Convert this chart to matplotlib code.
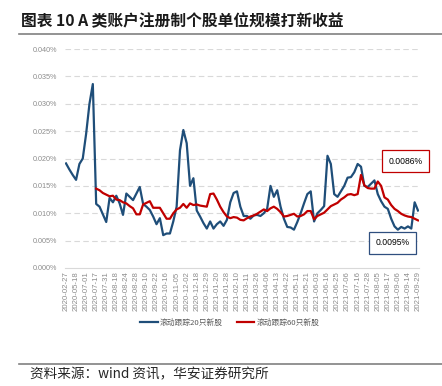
import matplotlib
matplotlib.use("Agg")
import matplotlib.pyplot as plt
import numpy as np
from matplotlib.lines import Line2D

plt.rcParams['font.family'] = ['Noto Sans CJK SC', 'DejaVu Sans']

# ---------------- data ----------------
tick_labels = [
    "2020-02-27", "2020-05-18", "2020-07-01", "2020-07-17", "2020-07-31", "2020-08-18",
    "2020-08-24", "2020-08-28", "2020-09-10", "2020-09-22", "2020-10-16", "2020-11-05",
    "2020-12-02", "2020-12-18", "2020-12-29", "2021-01-20", "2021-01-28", "2021-02-10",
    "2021-03-11", "2021-03-26", "2021-04-06", "2021-04-13", "2021-04-22", "2021-05-11",
    "2021-05-21", "2021-06-03", "2021-06-16", "2021-06-25", "2021-07-06", "2021-07-16",
    "2021-07-28", "2021-08-05", "2021-08-17", "2021-09-06", "2021-09-14", "2021-09-29",
]
points_per_label = 3

# rolling 20 new stocks (values in %)
track20 = [
    0.0191, 0.0180, 0.0170, 0.0161, 0.0190, 0.0200, 0.0245, 0.0300, 0.0336, 0.0117,
    0.0112, 0.0098, 0.0084, 0.0128, 0.0120, 0.0132, 0.0118, 0.0097, 0.0136, 0.0130,
    0.0124, 0.0136, 0.0148, 0.0117, 0.0112, 0.0106, 0.0094, 0.0080, 0.0091, 0.0060,
    0.0063, 0.0063, 0.0085, 0.0112, 0.0215, 0.0252, 0.0228, 0.0150, 0.0164, 0.0105,
    0.0094, 0.0082, 0.0072, 0.0085, 0.0072, 0.0080, 0.0085, 0.0077, 0.0088, 0.0120,
    0.0137, 0.0140, 0.0112, 0.0095, 0.0095, 0.0090, 0.0096, 0.0097, 0.0095, 0.0100,
    0.0108, 0.0150, 0.0130, 0.0142, 0.0112, 0.0090, 0.0075, 0.0074, 0.0070, 0.0084,
    0.0100, 0.0118, 0.0135, 0.0140, 0.0085, 0.0100, 0.0106, 0.0113, 0.0205, 0.0190,
    0.0135, 0.0130, 0.0140, 0.0150, 0.0165, 0.0166, 0.0175, 0.0190, 0.0185, 0.0150,
    0.0148, 0.0154, 0.0160, 0.0135, 0.0122, 0.0112, 0.0108, 0.0090, 0.0076, 0.0070,
    0.0075, 0.0072, 0.0076, 0.0072, 0.0120, 0.0105,
]

# rolling 60 new stocks (values in %), starts later
track60 = [np.nan] * 9 + [
    0.0145, 0.0142, 0.0137, 0.0134, 0.0131, 0.0132, 0.0125, 0.0124, 0.0120, 0.0118,
    0.0113, 0.0109, 0.0098, 0.0098, 0.0116, 0.0119, 0.0122, 0.0110, 0.0110, 0.0110,
    0.0100, 0.0090, 0.0090, 0.0100, 0.0107, 0.0110, 0.0117, 0.0110, 0.0118, 0.0115,
    0.0116, 0.0114, 0.0113, 0.0112, 0.0135, 0.0136, 0.0125, 0.0112, 0.0102, 0.0094,
    0.0091, 0.0093, 0.0092, 0.0088, 0.0087, 0.0091, 0.0094, 0.0096, 0.0099, 0.0103,
    0.0107, 0.0104, 0.0109, 0.0112, 0.0108, 0.0102, 0.0094, 0.0095, 0.0097, 0.0099,
    0.0094, 0.0095, 0.0098, 0.0104, 0.0104, 0.0089, 0.0095, 0.0098, 0.0101, 0.0107,
    0.0113, 0.0116, 0.0119, 0.0125, 0.0129, 0.0134, 0.0135, 0.0133, 0.0135, 0.0170,
    0.0151, 0.0146, 0.0145, 0.0145, 0.0158, 0.0150, 0.0129, 0.0125, 0.0115, 0.0108,
    0.0104, 0.0099, 0.0096, 0.0094, 0.0093, 0.0090, 0.0087,
]

series_names = ["滚动跟踪20只新股", "滚动跟踪60只新股"]
series_colors = ["#1f4e79", "#c00000"]
y_ticks = [0.000, 0.005, 0.010, 0.015, 0.020, 0.025, 0.030, 0.035, 0.040]
annot_red = "0.0086%"
annot_blue = "0.0095%"

# ---------------- figure ----------------
W, H = 442, 386
fig = plt.figure(figsize=(W / 100, H / 100), dpi=100)

ax_left, ax_right = 65, 419
ax_top, ax_bottom = 49, 268
ax = fig.add_axes([ax_left / W, 1 - ax_bottom / H, (ax_right - ax_left) / W, (ax_bottom - ax_top) / H])

x = np.arange(len(track20))
ax.plot(x, track20, color=series_colors[0], lw=1.6, label=series_names[0], zorder=3,
        solid_joinstyle='round')
ax.plot(x, np.array(track60, dtype=float), color=series_colors[1], lw=1.6,
        label=series_names[1], zorder=4, solid_joinstyle='round')

ax.set_xlim(-0.3, len(track20) - 1 + 0.3)
ax.set_ylim(0, 0.040)

ax.set_yticks(y_ticks)
ax.set_yticklabels([f"{v:.3f}%" for v in y_ticks], fontfamily='Liberation Sans',
                   fontsize=5.2, color='#8c8c8c')
for v in y_ticks[1:]:
    ax.axhline(v, color='#d9d9d9', lw=0.8, ls=(0, (5, 3)), zorder=1)

tick_pos = np.arange(len(tick_labels)) * points_per_label
ax.set_xticks(tick_pos)
ax.set_xticklabels(tick_labels, rotation=90, fontfamily='Liberation Sans',
                   fontsize=5.6, color='#8c8c8c')
ax.tick_params(axis='both', length=0)
ax.tick_params(axis='y', pad=5.5)
ax.tick_params(axis='x', pad=2.5)

for s in ['top', 'right', 'left']:
    ax.spines[s].set_visible(False)
ax.spines['bottom'].set_color('#d9d9d9')
ax.spines['bottom'].set_linewidth(0.8)

# annotation boxes
ax.text(101.3, 0.0195, annot_red, fontfamily='Liberation Sans', fontsize=6.2, color='black',
        ha='center', va='center', zorder=6, clip_on=False,
        bbox=dict(boxstyle='square,pad=0.75', fc='white', ec='#c00000', lw=0.9))
ax.text(97.5, 0.0046, annot_blue, fontfamily='Liberation Sans', fontsize=6.2, color='black',
        ha='center', va='center', zorder=6,
        bbox=dict(boxstyle='square,pad=0.75', fc='white', ec='#2f4f7f', lw=0.9))

# legend
leg = fig.legend(loc='center', bbox_to_anchor=(0.52, 1 - 323 / H), ncol=2, frameon=False,
                 fontsize=5.6, handlelength=2.2, handletextpad=0.3, columnspacing=1.8)
for t in leg.get_texts():
    t.set_color('#595959')

# title and rules
fig.text(21 / W, 1 - 21 / H, "图表 10 A 类账户注册制个股单位规模打新收益",
         fontsize=11.3, fontweight='bold', ha='left', va='center', color='#1a1a1a')
fig.add_artist(Line2D([19 / W, 1.0], [1 - 33.5 / H, 1 - 33.5 / H], color='#808080', lw=1.2))
fig.add_artist(Line2D([19 / W, 1.0], [1 - 363.5 / H, 1 - 363.5 / H], color='#808080', lw=1.2))
fig.text(30 / W, 1 - 374 / H, "资料来源：wind 资讯，华安证券研究所",
         fontsize=9.8, ha='left', va='center', color='#262626')

fig.savefig("out.png", dpi=100)
